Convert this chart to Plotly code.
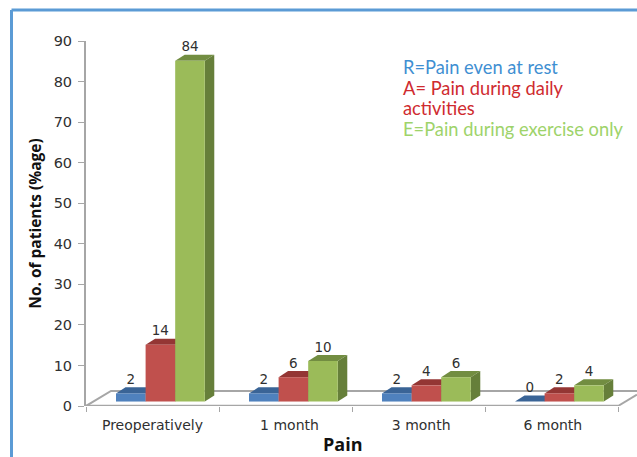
import plotly.graph_objects as go

categories = ["Preoperatively", "1 month", "3 month", "6 month"]
rest = [2, 2, 2, 0]
daily = [14, 6, 4, 2]
exercise = [84, 10, 6, 4]
y_ticks = [0, 10, 20, 30, 40, 50, 60, 70, 80, 90]
category_label_positions = [0.5, 1.53, 2.52, 3.51]
series = [
    ("R", rest, "#4f81bd", "#3a6496", "#34587f"),
    ("A", daily, "#c0504d", "#943634", "#7f2f2d"),
    ("E", exercise, "#9bbb59", "#728d41", "#667f3a"),
]
legend_lines = [
    ("R=Pain even at rest", "#3f8fd2"),
    ("A= Pain during daily", "#cf2b2f"),
    ("activities", "#cf2b2f"),
    ("E=Pain during exercise only", "#9ed36a"),
]

N = len(categories)
X_MAX = 551 / 133
BAR_W = 0.2225
GROUP_OFFSET = 0.2256
BASE = 1.1
DX, DY = 0.0714, 1.5
FLOOR_DX, FLOOR_DY = 0.188, 3.7
AXIS = "#a6a6a6"
TEXT = "#303030"

fig = go.Figure()


def floor(xs, ys, width=2.5):
    fig.add_trace(go.Scatter(x=xs, y=ys, mode="lines", cliponaxis=False, hoverinfo="skip",
                             line=dict(color=AXIS, width=width), showlegend=False))


floor([0, FLOOR_DX, X_MAX], [0, FLOOR_DY, FLOOR_DY], width=2)
floor([0, N], [0, 0])
floor([N, X_MAX], [0, FLOOR_DY * (X_MAX - N) / FLOOR_DX], width=2)

# Depth faces (side and top) on the lower subplot, front faces above them
for s, (name, values, front, top, side) in enumerate(series):
    for i, v in enumerate(values):
        x0 = i + GROUP_OFFSET + s * BAR_W
        x1 = x0 + BAR_W
        h = BASE + v
        fig.add_trace(go.Scatter(
            x=[x0, x1, x1 + DX, x0 + DX, x0], y=[h, h, h + DY, h + DY, h],
            mode="lines", fill="toself", fillcolor=top, line=dict(width=0),
            hoverinfo="skip", showlegend=False))
        if v > 0:
            fig.add_trace(go.Scatter(
                x=[x1, x1 + DX, x1 + DX, x1, x1], y=[BASE, BASE + DY, h + DY, h, BASE],
                mode="lines", fill="toself", fillcolor=side, line=dict(width=0),
                hoverinfo="skip", showlegend=False))

for s, (name, values, front, top, side) in enumerate(series):
    xs = [i + GROUP_OFFSET + (s + 0.5) * BAR_W for i in range(N)]
    fig.add_trace(go.Bar(x=xs, y=values, base=BASE, width=BAR_W, name=name,
                         marker=dict(color=front, line=dict(width=0)),
                         xaxis="x2", yaxis="y2", showlegend=False))
    fig.add_trace(go.Scatter(x=xs, y=[v + BASE + DY for v in values], mode="text",
                             text=[str(v) for v in values], textposition="top center",
                             textfont=dict(family="DejaVu Sans", size=13.5, color=TEXT),
                             xaxis="x2", yaxis="y2", showlegend=False, cliponaxis=False,
                             hoverinfo="skip"))

for k, (text, color) in enumerate(legend_lines):
    fig.add_annotation(xref="paper", yref="paper", x=(401 - 86) / 551, y=(406 - (67 + k * 20.7)) / 365,
                       xanchor="left", yanchor="middle", showarrow=False, text=text,
                       font=dict(family="Lato", size=18.3, color=color))

fig.add_annotation(xref="paper", yref="paper", x=(343 - 86) / 551, y=(406 - 444) / 365,
                   xanchor="center", yanchor="middle", showarrow=False,
                   text="<b>Pain</b>",
                   font=dict(family="Open Sans", size=18, color="#111111"))

# Blue frame around the chart
fig.add_shape(type="line", xref="paper", yref="paper", layer="below",
              x0=-74.5 / 551, x1=-74.5 / 551, y0=-51 / 365, y1=396 / 365,
              line=dict(color="#5b9bd5", width=3))
fig.add_shape(type="line", xref="paper", yref="paper", layer="below",
              x0=-74.5 / 551, x1=1, y0=396 / 365, y1=396 / 365,
              line=dict(color="#5b9bd5", width=3))

fig.update_layout(
    width=637, height=457, autosize=False,
    margin=dict(l=86, r=0, t=41, b=51),
    paper_bgcolor="white", plot_bgcolor="white",
    barmode="overlay", showlegend=False,
    xaxis=dict(range=[0, X_MAX], tickmode="array",
               tickvals=category_label_positions, ticktext=categories,
               ticks="", showline=False, showgrid=False, zeroline=False,
               minor=dict(tickmode="array", tickvals=list(range(N + 1)), ticks="outside",
                          ticklen=5, tickwidth=1, tickcolor=AXIS, showgrid=False),
               tickfont=dict(family="DejaVu Sans", size=14, color=TEXT),
               ticklabelstandoff=9),
    yaxis=dict(range=[0, 90], tickmode="array", tickvals=y_ticks,
               ticks="outside", ticklen=6, tickwidth=1, tickcolor=AXIS,
               showline=True, linewidth=2, linecolor=AXIS,
               showgrid=False, zeroline=False,
               tickfont=dict(family="DejaVu Sans", size=14.5, color=TEXT),
               ticklabelstandoff=3,
               title=dict(text="<b>No. of patients (%age)</b>", standoff=8,
                          font=dict(family="Open Sans", size=15.5, color="#111111"))),
    xaxis2=dict(range=[0, X_MAX], overlaying="x", visible=False),
    yaxis2=dict(range=[0, 90], overlaying="y", visible=False),
)

# Remove the page's default body margin so the figure fills the window exactly
fig.write_html("out.html", config={"displayModeBar": False},
               post_script="document.body.style.margin='0';document.documentElement.style.overflow='hidden';")
